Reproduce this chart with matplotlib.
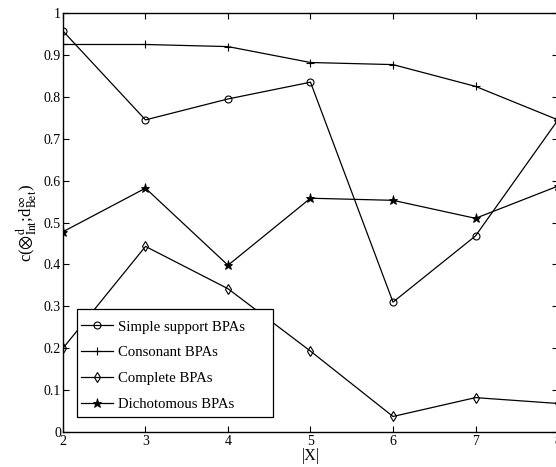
import matplotlib
matplotlib.use("Agg")
import matplotlib.pyplot as plt
from matplotlib.patches import Rectangle

plt.rcParams['font.family'] = ['Liberation Serif', 'DejaVu Serif']
plt.rcParams['mathtext.fontset'] = 'stix'

sizes = [2, 3, 4, 5, 6, 7, 8]
simple_support = [0.957, 0.745, 0.795, 0.835, 0.310, 0.468, 0.745]
consonant = [0.925, 0.925, 0.920, 0.882, 0.877, 0.825, 0.745]
complete = [0.200, 0.443, 0.342, 0.193, 0.037, 0.082, 0.068]
dichotomous = [0.478, 0.582, 0.398, 0.558, 0.553, 0.510, 0.587]

labels = ['Simple support BPAs', 'Consonant BPAs', 'Complete BPAs', 'Dichotomous BPAs']
y_ticks = [0, 0.1, 0.2, 0.3, 0.4, 0.5, 0.6, 0.7, 0.8, 0.9, 1]
y_tick_labels = ['0', '0.1', '0.2', '0.3', '0.4', '0.5', '0.6', '0.7', '0.8', '0.9', '1']

fig = plt.figure(figsize=(5.56, 4.67), dpi=100)
ax = fig.add_axes([0.1133, 0.075, 0.8903, 0.897])

kw = dict(color='black', linewidth=0.9)
ax.plot(sizes, simple_support, marker='o', markersize=5, markerfacecolor='none',
        markeredgewidth=0.8, label=labels[0], **kw)
ax.plot(sizes, consonant, marker='+', markersize=6, markeredgewidth=0.8,
        label=labels[1], **kw)
ax.plot(sizes, complete, marker='d', markersize=5.5, markerfacecolor='none',
        markeredgewidth=0.8, label=labels[2], **kw)
ax.plot(sizes, dichotomous, marker='*', markersize=6.5, markerfacecolor='black',
        markeredgewidth=0.6, label=labels[3], **kw)

ax.set_xlim(2, 8)
ax.set_ylim(0, 1)
ax.set_xticks(sizes)
ax.set_yticks(y_ticks)
ax.set_yticklabels(y_tick_labels)
ax.tick_params(direction='in', length=4, width=0.8, labelsize=10,
               top=True, right=True, pad=2)
ax.tick_params(axis='y', pad=1.5)
for s in ax.spines.values():
    s.set_linewidth(1.0)

ax.set_xlabel('|X|', fontsize=11.5, labelpad=0)
ax.set_ylabel(r'c($\otimes^{\rm d}_{\rm Int}$;d$^{\infty}_{\rm Bet}$)',
              fontsize=12, labelpad=3)

# MATLAB-style legend box, wider than its content
box = Rectangle((0.028, 0.036), 0.396, 0.258, transform=ax.transAxes,
                facecolor='white', edgecolor='black', linewidth=0.9, zorder=4.5)
ax.add_patch(box)
leg = ax.legend(loc='lower left', bbox_to_anchor=(0.024, 0.036), fontsize=10.6,
                frameon=False, handlelength=2.2, borderpad=0.4,
                labelspacing=0.85, handletextpad=0.3, borderaxespad=0)
leg.set_zorder(5)

fig.savefig('out.png', dpi=100)
